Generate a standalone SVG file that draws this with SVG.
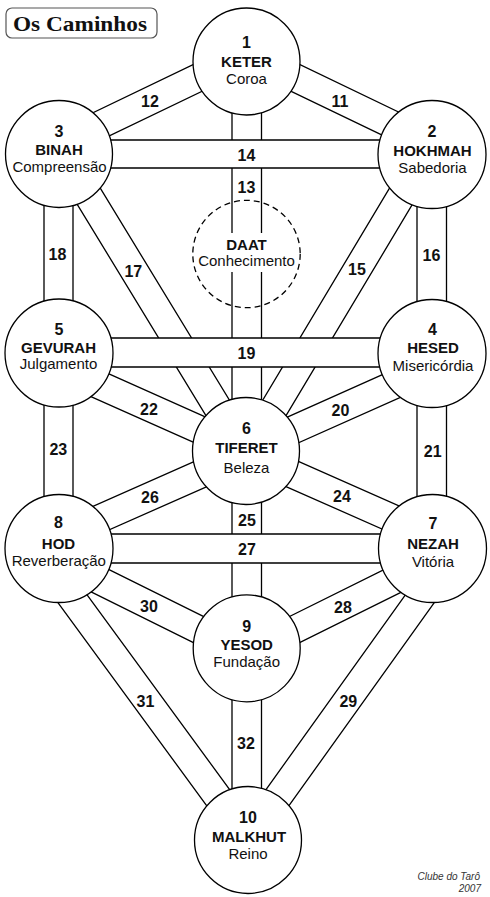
<svg xmlns="http://www.w3.org/2000/svg" width="490" height="897" viewBox="0 0 490 897">
<style>
.ln{stroke:#000;stroke-width:1.3;fill:none}
.hb{fill:#fff;stroke:none}
.node{fill:#fff;stroke:#000;stroke-width:1.3}
.daat{fill:none;stroke:#000;stroke-width:1.3;stroke-dasharray:6 4}
.num{font-family:"Liberation Sans",Arial,sans-serif;font-weight:bold;font-size:16px;text-anchor:middle;fill:#111}
.name{font-family:"Liberation Sans",Arial,sans-serif;font-weight:bold;font-size:15px;text-anchor:middle;fill:#111}
.sub{font-family:"Liberation Sans",Arial,sans-serif;font-size:15px;text-anchor:middle;fill:#111}
.foot{font-family:"Liberation Sans",Arial,sans-serif;font-style:italic;font-size:10px;text-anchor:end;fill:#333}
</style>
<rect width="490" height="897" fill="#fff"/>
<g id="title">
<rect x="6" y="8" width="151" height="30" rx="6" fill="#fff" stroke="#555" stroke-width="1.2"/>
<text x="13" y="31" font-family="Liberation Serif, serif" font-weight="bold" font-size="22" textLength="134" lengthAdjust="spacingAndGlyphs" fill="#111">Os Caminhos</text>
</g>
<g id="connectors">
<g id="p12"><path class="ln" d="M65.1,157.2L252.6,67M52.9,132L240.4,41.8"/><text class="num" x="150" y="107">12</text></g>
<g id="p11"><path class="ln" d="M427.9,157.2L240.4,67M440.1,132L252.6,41.8"/><text class="num" x="340" y="107">11</text></g>
<g id="p13"><path class="ln" d="M232,61V451M261.5,61V451"/><text class="num" x="246.5" y="192.5">13</text></g>
<g id="p18"><path class="ln" d="M44,154V353M73,154V353"/><text class="num" x="57.5" y="260">18</text></g>
<g id="p16"><path class="ln" d="M417,154V353M446.5,154V353"/><text class="num" x="431.5" y="260.5">16</text></g>
<g id="p17"><path class="ln" d="M51.6,162.3L232,458.3M75.6,147.7L256,443.7"/><text class="num" x="133.3" y="277">17</text></g>
<g id="p15"><path class="ln" d="M413.6,147.8L236.6,443.8M437.6,162.2L260.6,458.2"/><text class="num" x="357" y="275">15</text></g>
<g id="p23"><path class="ln" d="M44,353V548.5M73,353V548.5"/><text class="num" x="58.3" y="455">23</text></g>
<g id="p21"><path class="ln" d="M417,353V548.5M446.5,353V548.5"/><text class="num" x="432.7" y="456.5">21</text></g>
<g id="p22"><path class="ln" d="M53.3,379.8L240.3,463.2M64.7,354.2L251.7,437.6"/><text class="num" x="149" y="415">22</text></g>
<g id="p20"><path class="ln" d="M439.7,379.8L252.7,463.2M428.3,354.2L241.3,437.6"/><text class="num" x="340.5" y="416">20</text></g>
<g id="p26"><path class="ln" d="M64.7,549.5L251.7,466.8M53.3,523.9L240.3,441.2"/><text class="num" x="150" y="503">26</text></g>
<g id="p24"><path class="ln" d="M428.3,549.5L241.3,466.8M439.7,523.9L252.7,441.2"/><text class="num" x="342" y="501.5">24</text></g>
<g id="p25"><path class="ln" d="M232,451V648M261.5,451V648"/><text class="num" x="247" y="526">25</text></g>
<g id="p30"><path class="ln" d="M52.8,572.9L240.3,665.9M65.2,547.9L252.7,640.9"/><text class="num" x="149" y="611.5">30</text></g>
<g id="p28"><path class="ln" d="M440.2,572.9L252.7,665.9M427.8,547.9L240.3,640.9"/><text class="num" x="343" y="612.5">28</text></g>
<g id="p31"><path class="ln" d="M24.4,556.8L237.9,848.3M47,540.2L260.5,831.7"/><text class="num" x="145.5" y="706.5">31</text></g>
<g id="p29"><path class="ln" d="M444.4,540.4L235.7,831.9M467.2,556.7L258.5,848.2"/><text class="num" x="348.3" y="706.5">29</text></g>
<g id="p32"><path class="ln" d="M232,648V840M261.5,648V840"/><text class="num" x="246" y="749">32</text></g>
<g id="p14"><rect class="hb" x="59" y="140" width="373" height="28"/><path class="ln" d="M59,140H432M59,168H432"/><text class="num" x="246.5" y="161">14</text></g>
<g id="p19"><rect class="hb" x="59" y="338" width="373" height="29"/><path class="ln" d="M59,338H432M59,367H432"/><text class="num" x="246.5" y="359">19</text></g>
<g id="p27"><rect class="hb" x="59" y="534" width="373" height="29"/><path class="ln" d="M59,534H432M59,563H432"/><text class="num" x="247" y="555">27</text></g>
</g>
<g id="n1"><circle class="node" cx="246.5" cy="61.5" r="53.5"/><text class="num" x="246.5" y="48">1</text><text class="name" x="246.5" y="66.7">KETER</text><text class="sub" x="246.5" y="84">Coroa</text></g>
<g id="n3"><circle class="node" cx="59" cy="154" r="53.5"/><text class="num" x="59" y="136.7">3</text><text class="name" x="59" y="155">BINAH</text><text class="sub" x="59.5" y="171.7">Compreensão</text></g>
<g id="n2"><circle class="node" cx="432" cy="154.5" r="54"/><text class="num" x="432" y="136.7">2</text><text class="name" x="432.5" y="156">HOKHMAH</text><text class="sub" x="432.5" y="173">Sabedoria</text></g>
<g id="daat"><rect x="197" y="233" width="100" height="39" fill="#fff"/><circle class="daat" cx="246.5" cy="254" r="53.7"/><text class="name" x="246.5" y="250">DAAT</text><text class="sub" x="246.5" y="266">Conhecimento</text></g>
<g id="n5"><circle class="node" cx="59" cy="353" r="54"/><text class="num" x="59" y="335">5</text><text class="name" x="58.5" y="352.7">GEVURAH</text><text class="sub" x="58.5" y="369.3">Julgamento</text></g>
<g id="n4"><circle class="node" cx="432" cy="353.5" r="54"/><text class="num" x="432.5" y="335">4</text><text class="name" x="433" y="353.3">HESED</text><text class="sub" x="433" y="370.7">Misericórdia</text></g>
<g id="n6"><circle class="node" cx="246" cy="451" r="53.5"/><text class="num" x="246.5" y="434.3">6</text><text class="name" x="246.5" y="453.3">TIFERET</text><text class="sub" x="246.5" y="472.7">Beleza</text></g>
<g id="n8"><circle class="node" cx="59" cy="548.5" r="54"/><text class="num" x="58.5" y="528.3">8</text><text class="name" x="58.5" y="549">HOD</text><text class="sub" x="58.8" y="565.7">Reverberação</text></g>
<g id="n7"><circle class="node" cx="432.5" cy="548.5" r="54"/><text class="num" x="433" y="529.3">7</text><text class="name" x="433" y="549.3">NEZAH</text><text class="sub" x="433" y="567.3">Vitória</text></g>
<g id="n9"><circle class="node" cx="246.7" cy="648.3" r="53.5"/><text class="num" x="246.7" y="631.7">9</text><text class="name" x="246.7" y="650">YESOD</text><text class="sub" x="246.7" y="667.3">Fundação</text></g>
<g id="n10"><circle class="node" cx="248" cy="840" r="53.5"/><text class="num" x="248" y="823.3">10</text><text class="name" x="249" y="841.7">MALKHUT</text><text class="sub" x="248" y="859">Reino</text></g>
<g id="footer"><text class="foot" x="480" y="880">Clube do Tarô</text><text class="foot" x="481" y="892">2007</text></g>
</svg>
